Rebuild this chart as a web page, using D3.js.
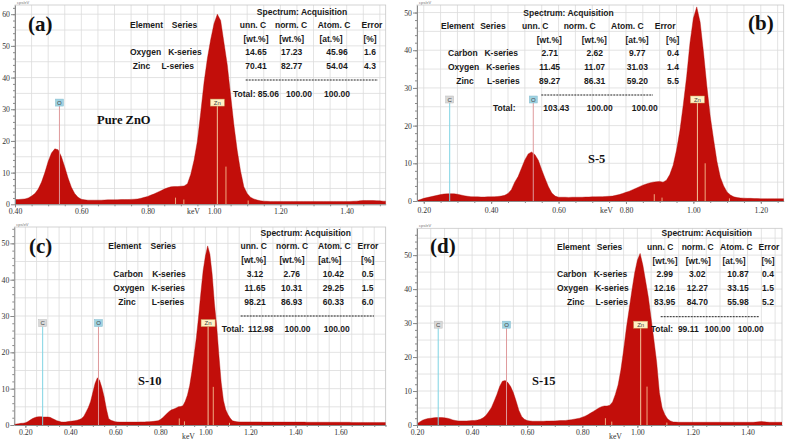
<!DOCTYPE html>
<html><head><meta charset="utf-8">
<script src="https://cdn.jsdelivr.net/npm/d3@7"></script>
<style>body{margin:0;background:#fff}svg{display:block}</style>
</head><body>
<svg id="c" width="786" height="442"></svg>
<script>
// ---------------- DATA ----------------
// Spectra: counts (cps/eV) on a 0.01 keV channel grid starting at *_start
const specA_start = 0.40;
const specA = [1.5,1.5,1.6,1.7,2.0,2.6,3.4,4.8,7.0,10.0,13.5,16.2,17.5,17.2,15.0,11.8,8.3,5.4,3.4,2.2,
1.6,1.4,1.3,1.3,1.3,1.3,1.3,1.35,1.4,1.4,1.4,1.45,1.5,1.5,1.5,1.55,1.6,1.7,1.9,2.2,
2.5,2.9,3.3,3.8,4.3,4.8,5.2,5.5,5.6,5.6,5.7,5.8,6.5,9.5,14.0,20.0,29.0,38.5,46.0,52.0,
57.0,60.0,58.0,51.0,44.0,34.5,25.0,17.0,10.5,5.5,3.4,2.2,1.7,1.35,1.1,1.0,
0.95,0.9,0.9,0.9,0.9,0.9,0.9,0.9,0.9,0.9,0.9,0.9,0.9,0.9,0.9,0.9,0.9,0.9,0.9,0.9,0.9,0.9,0.9,0.9,0.9,0.9,0.95,
1.0,1.1,1.2,1.2,1.2,1.2,1.15,1.1,1.0,1.0];

const specB_start = 0.18;
const specB = [0.1,0.4,0.7,0.9,1.1,1.3,1.5,1.7,1.85,1.9,1.95,1.9,1.8,1.6,1.4,1.25,1.15,1.1,
1.1,1.05,1.05,1.1,1.1,1.15,1.2,1.3,1.5,2.0,3.0,5.0,6.5,8.7,10.9,12.5,13.0,12.3,10.8,8.3,6.0,3.8,2.1,1.3,
1.0,1.0,1.0,0.95,1.0,1.0,1.0,1.0,1.05,1.05,1.1,1.1,1.15,1.15,1.2,1.25,1.3,1.5,1.7,2.0,
2.3,2.6,3.0,3.4,3.8,4.2,4.5,4.8,5.0,5.1,5.2,5.0,5.5,7.0,9.5,13.5,18.7,25.5,33.0,42.0,
48.5,51.5,47.5,39.5,30.5,22.5,16.3,10.5,6.3,4.0,2.4,1.6,1.1,0.9,0.8,
0.75,0.7,0.7,0.65,0.65,0.6,0.6,0.6,0.6,0.6,0.6,0.6,0.6];

const specC_start = 0.15;
const specC = [0.2,0.25,0.35,0.45,0.5,0.6,0.9,1.3,1.7,2.0,2.2,2.3,2.3,2.2,2.2,2.2,2.1,1.8,1.5,1.2,
1.0,0.85,0.8,0.85,0.95,1.0,1.1,1.2,1.3,1.5,1.8,2.4,3.6,4.8,6.5,9.0,11.5,13.0,12.3,10.3,7.8,4.5,1.8,1.3,1.1,0.9,
0.85,0.8,0.8,0.8,0.8,0.8,0.8,0.8,0.8,0.8,0.85,0.85,0.85,0.9,0.9,0.95,
1.0,1.1,1.2,1.5,2.0,2.6,3.2,3.8,4.2,4.4,4.7,5.0,5.1,5.3,6.5,8.2,10.8,14.7,19.3,24.1,30.0,36.5,42.5,
46.5,49.3,47.0,41.5,33.5,27.3,19.2,11.8,6.8,4.3,2.9,1.9,1.2,1.0,0.9,
0.85,0.85,0.85,0.85,0.85,0.85,0.85,0.85,0.85,0.85,
0.8,0.8,0.8,0.8,0.8,0.8,0.8,0.8,0.8,0.8,0.8,0.8,0.8,0.8,0.8,0.8,0.8,0.8,0.8,0.8,
0.75,0.75,0.75,0.75,0.75,0.75,0.75,0.75,0.75,0.75,0.75,0.75,0.75,0.75,0.75,0.75,0.75,0.75,0.75,0.75,
0.7,0.7,0.7,0.7,0.7,0.7,0.7,0.7,0.7,0.7,0.7,0.7,0.7,0.7,0.7,0.7];

const specD_start = 0.20;
const specD = [0.4,0.9,1.4,1.7,1.9,2.0,2.1,2.2,2.2,2.2,2.1,2.0,1.8,1.5,1.3,1.2,1.2,1.2,1.2,1.25,
1.3,1.35,1.45,1.7,2.1,2.8,3.9,5.1,7.0,9.0,11.3,12.9,13.1,12.5,11.3,9.5,7.0,4.3,2.5,1.7,1.3,1.2,
1.1,1.1,1.1,1.1,1.1,1.15,1.15,1.2,1.2,1.25,1.3,1.3,1.35,1.45,1.55,1.7,1.85,2.0,
2.3,2.6,3.0,3.5,4.0,4.5,5.0,5.4,5.6,5.6,5.8,6.8,9.0,11.8,16.2,22.0,28.5,34.0,39.5,44.7,
48.5,50.5,47.0,42.3,37.5,31.3,25.0,18.5,9.5,5.0,3.0,1.8,1.2,0.9,
0.85,0.8,0.8,0.8,0.8,0.8,0.8,0.8,0.8,0.8,0.8,0.8,0.8,0.8,0.8,0.8,0.8,0.8,0.8,0.8,
0.8,0.8,0.8,0.8,0.8,0.8,0.8,0.8,0.8,0.85,0.95,1.0,0.95,0.85,0.8,0.8,0.8,0.8,0.8,0.8];

// Element marker energies (keV) and minor Zn line heights (cps/eV)
const markersA = [{el:"O", e:0.534}, {el:"Zn", e:1.010}];
const minorA = [{e:0.884, h:2.1}, {e:0.909, h:1.5}, {e:1.036, h:11.9}, {e:1.103, h:1.2}];
const markersB = [{el:"C", e:0.277}, {el:"O", e:0.525}, {el:"Zn", e:1.012}];
const minorB = [{e:0.884, h:1.8}, {e:0.907, h:0.9}, {e:1.035, h:10.0}, {e:1.107, h:0.7}];
const markersC = [{el:"C", e:0.277}, {el:"O", e:0.525}, {el:"Zn", e:1.012}];
const minorC = [{e:0.884, h:1.8}, {e:0.907, h:1.0}, {e:1.035, h:10.5}, {e:1.107, h:0.6}];
const markersD = [{el:"C", e:0.277}, {el:"O", e:0.525}, {el:"Zn", e:1.012}];
const minorD = [{e:0.884, h:2.0}, {e:0.907, h:1.0}, {e:1.035, h:11.3}, {e:1.107, h:0.7}];

// Tick labels
const xTicksA = [0.40,0.60,0.80,1.00,1.20,1.40];
const xTicksB = [0.20,0.40,0.60,0.80,1.00,1.20];
const xTicksC = [0.20,0.40,0.60,0.80,1.00,1.20,1.40,1.60];
const xTicksD = [0.20,0.40,0.60,0.80,1.00,1.20,1.40];
const yTicksA = [0,10,20,30,40,50,60];
const yTicksB = [0,10,20,30,40,50];
const yTicksC = [0,10,20,30,40,50];
const yTicksD = [0,10,20,30,40,50];

// Quantification tables
const headers = ["unn. C","norm. C","Atom. C","Error"];
const units = ["[wt.%]","[wt.%]","[at.%]","[%]"];
const rowsA = [["Oxygen","K-series","14.65","17.23","45.96","1.6"],["Zinc","L-series","70.41","82.77","54.04","4.3"]];
const totalA = ["85.06","100.00","100.00"];
const rowsB = [["Carbon","K-series","2.71","2.62","9.77","0.4"],["Oxygen","K-series","11.45","11.07","31.03","1.4"],["Zinc","L-series","89.27","86.31","59.20","5.5"]];
const totalB = ["103.43","100.00","100.00"];
const rowsC = [["Carbon","K-series","3.12","2.76","10.42","0.5"],["Oxygen","K-series","11.65","10.31","29.25","1.5"],["Zinc","L-series","98.21","86.93","60.33","6.0"]];
const totalC = ["112.98","100.00","100.00"];
const rowsD = [["Carbon","K-series","2.99","3.02","10.87","0.4"],["Oxygen","K-series","12.16","12.27","33.15","1.5"],["Zinc","L-series","83.95","84.70","55.98","5.2"]];
const totalD = ["99.11","100.00","100.00"];

const panelLetters = ["(a)","(b)","(c)","(d)"];
const sampleNames = ["Pure ZnO","S-5","S-10","S-15"];

// ---------------- LAYOUT ----------------
const svg = d3.select("#c");
const SERIF = "'Liberation Serif','Times New Roman',serif";
const SANS = "'Liberation Sans',Arial,sans-serif";
const RED = "#c20e0a";

const panels = [
 {spec:specA, start:specA_start, markers:markersA, minor:minorA, xt:xTicksA, yt:yTicksA, rows:rowsA, total:totalA,
  left:15, right:385.7, top:5, zero:204.3, xDom:[0.40,1.5176], yMax:62.9, labelV:31.0,
  letter:{x:28,y:31}, sample:{x:97,y:124}, keV:{x:187,y:214}, tickY:214,
  tbl:{title:[302,14.7], hy:[28,42], elemX:130, serEnd:197.3, colH:[253,291,334,372], colU:[256,291.7,331,370],
       rowY:[55.3,69], lab:[[130,201.7],[132.7,194]], colV:[256,291.7,337,370], dash:[245.7,378,80],
       totY:96.7, totLab:233, totV:[268.3,299,337]}},
 {spec:specB, start:specB_start, markers:markersB, minor:minorB, xt:xTicksB, yt:yTicksB, rows:rowsB, total:totalB,
  left:417, right:783.7, top:5, zero:201, xDom:[0.18,1.268], yMax:52.0, labelV:26.0,
  letter:{x:748,y:30}, sample:{x:588,y:163}, keV:{x:600,y:213}, tickY:213,
  tbl:{title:[568.5,15.7], hy:[28.7,43], elemX:441, serEnd:505.7, colH:[535.3,579.7,627.3,665.2], colU:[549.3,594.3,637,672.7],
       rowY:[56.3,69.7,83.7], lab:[[448,518],[448,519.7],[456.3,519.7]], colV:[549.7,594.7,637.3,673], dash:[541.3,653,95],
       totY:111.3, totLab:493, totV:[556.3,599.7,644.7]}},
 {spec:specC, start:specC_start, markers:markersC, minor:minorC, xt:xTicksC, yt:yTicksC, rows:rowsC, total:totalC,
  left:14.3, right:385.7, top:227, zero:425, xDom:[0.151,1.801], yMax:54.5, labelV:27.1,
  letter:{x:29,y:253}, sample:{x:138,y:385}, keV:{x:182,y:439}, tickY:435,
  tbl:{title:[305.7,236], hy:[249.3,263.3], elemX:108.3, serEnd:176, colH:[253.7,292,334.3,368], colU:[253.7,292,329.7,367.7],
       rowY:[276.7,290.7,304.7], lab:[[113.3,185.7],[113.3,185],[118.3,184.3]], colV:[255,291.7,333.3,367.7], dash:[240.7,374,316],
       totY:332.3, totLab:221.7, totV:[260.8,297.5,336.7]}},
 {spec:specD, start:specD_start, markers:markersD, minor:minorD, xt:xTicksD, yt:yTicksD, rows:rowsD, total:totalD,
  left:417, right:782, top:228.3, zero:425, xDom:[0.20,1.525], yMax:57.9, labelV:28.5,
  letter:{x:430,y:253}, sample:{x:532,y:385}, keV:{x:609,y:439}, tickY:435,
  tbl:{title:[706.7,236], hy:[249.7,264], elemX:557, serEnd:622.3, colH:[660.2,697.7,736.3,769], colU:[665,698.3,734,768],
       rowY:[277.3,291.3,305], lab:[[557,627.3],[557,628.7],[567,628]], colV:[664.7,697.3,738,768], dash:[660.7,759.7,316.7],
       totY:332.3, totLab:650.7, totV:[688.3,717.5,750.8]}}
];

const markerStyle = {
  C:{line:"#7fd3e3", bg:"#d9d9d9", border:"#bdbdbd"},
  O:{line:"#df9a9c", bg:"#9fd3e2", border:"#86bccd"},
  Zn:{line:"#f3c79c", bg:"#fff2c6", border:"#c9a25e"}
};

panels.forEach((p, pi) => {
  const g = svg.append("g");
  const x = d3.scaleLinear().domain(p.xDom).range([p.left, p.right]);
  const y = d3.scaleLinear().domain([0, p.yMax]).range([p.zero, p.top]);
  const clipId = "clip" + pi;
  svg.append("clipPath").attr("id", clipId).append("rect")
     .attr("x", p.left).attr("y", p.top).attr("width", p.right - p.left).attr("height", p.zero - p.top);

  // grid
  const gx = [];
  for (let k = Math.ceil(p.xDom[0] / 0.05 - 1e-6); k * 0.05 <= p.xDom[1] + 1e-6; k++) gx.push(+(k * 0.05).toFixed(3));
  g.append("g").selectAll("line").data(gx).join("line")
    .attr("x1", d => x(d)).attr("x2", d => x(d)).attr("y1", p.top).attr("y2", p.zero)
    .attr("stroke", "#dcdcdc").attr("stroke-width", 0.8);
  const gy = d3.range(5, p.yMax, 5);
  g.append("g").selectAll("line").data(gy).join("line")
    .attr("x1", p.left).attr("x2", p.right).attr("y1", d => y(d)).attr("y2", d => y(d))
    .attr("stroke", "#dcdcdc").attr("stroke-width", 0.8);
  g.append("rect").attr("x", p.left).attr("y", p.top).attr("width", p.right - p.left).attr("height", p.zero - p.top)
    .attr("fill", "none").attr("stroke", "#c8c8c8").attr("stroke-width", 0.8);

  // spectrum
  const pts = p.spec.map((v, i) => ({e: p.start + i * 0.01, v}));
  const area = d3.area().x(d => x(d.e)).y0(y(0)).y1(d => y(d.v)).curve(d3.curveLinear);
  g.append("path").datum(pts).attr("clip-path", `url(#${clipId})`)
    .attr("d", area).attr("fill", RED).attr("stroke", "#b00a06").attr("stroke-width", 0.4);

  // minor lines
  g.append("g").selectAll("line").data(p.minor).join("line")
    .attr("x1", d => x(d.e)).attr("x2", d => x(d.e)).attr("y1", y(0)).attr("y2", d => y(d.h))
    .attr("stroke", "#f0aa80").attr("stroke-width", 1);

  // marker lines + labels
  const mg = g.append("g");
  p.markers.forEach(m => {
    const st = markerStyle[m.el];
    const cx = x(m.e), ly = y(p.labelV);
    mg.append("line").attr("x1", cx).attr("x2", cx).attr("y1", ly).attr("y2", y(0))
      .attr("stroke", st.line).attr("stroke-width", 1);
    const w = m.el === "Zn" ? 14 : 8;
    mg.append("rect").attr("x", cx - w / 2).attr("y", ly - 7).attr("width", w).attr("height", 7)
      .attr("fill", st.bg).attr("stroke", st.border).attr("stroke-width", 0.5);
    mg.append("text").attr("x", cx).attr("y", ly - 1.5).attr("text-anchor", "middle")
      .attr("font-family", SANS).attr("font-size", 6).attr("fill", "#444").text(m.el);
  });

  // axes
  const xAxis = d3.axisBottom(x).tickValues(p.xt).tickFormat(d3.format(".2f")).tickSize(3).tickSizeOuter(0);
  const ax = g.append("g").attr("transform", `translate(0,${p.zero})`).call(xAxis);
  ax.select(".domain").attr("stroke", "#8a8a8a");
  ax.selectAll(".tick line").attr("stroke", "#8a8a8a");
  ax.selectAll(".tick text").attr("font-family", SERIF).attr("font-size", 7.8).attr("fill", "#333")
    .attr("dy", null).attr("y", p.tickY - p.zero);
  const minX = d3.axisBottom(x).tickValues(gx).tickFormat("").tickSize(2).tickSizeOuter(0);
  g.append("g").attr("transform", `translate(0,${p.zero})`).call(minX)
    .call(s => { s.select(".domain").remove(); s.selectAll("line").attr("stroke", "#8a8a8a"); });

  const yAxis = d3.axisLeft(y).tickValues(p.yt).tickSize(4).tickSizeOuter(0);
  const ay = g.append("g").attr("transform", `translate(${p.left},0)`).call(yAxis);
  ay.select(".domain").attr("stroke", "#8a8a8a");
  ay.selectAll(".tick line").attr("stroke", "#8a8a8a");
  ay.selectAll(".tick text").attr("font-family", SERIF).attr("font-size", 7.8).attr("fill", "#333").attr("x", -5);
  const minY = d3.axisLeft(y).tickValues(d3.range(2, p.yMax, 2)).tickFormat("").tickSize(2).tickSizeOuter(0);
  g.append("g").attr("transform", `translate(${p.left},0)`).call(minY)
    .call(s => { s.select(".domain").remove(); s.selectAll("line").attr("stroke", "#8a8a8a"); });

  g.append("text").attr("x", p.left + 2).attr("y", p.top - 1).attr("font-family", SANS)
    .attr("font-size", 4).attr("fill", "#777").text("cps/eV");
  g.append("text").attr("x", p.keV.x).attr("y", p.keV.y).attr("font-family", SERIF)
    .attr("font-size", 7.8).attr("fill", "#333").text("keV");

  // letters & sample names
  g.append("text").attr("x", p.letter.x).attr("y", p.letter.y).attr("font-family", SERIF)
    .attr("font-weight", "bold").attr("font-size", 21).attr("fill", "#111").text(panelLetters[pi]);
  g.append("text").attr("x", p.sample.x).attr("y", p.sample.y).attr("font-family", SERIF)
    .attr("font-weight", "bold").attr("font-size", 12.5).attr("fill", "#111").text(sampleNames[pi]);

  // table
  const t = p.tbl;
  const tg = g.append("g").attr("font-family", SANS).attr("font-weight", "bold").attr("font-size", 8.5).attr("fill", "#1a1a1a");
  const T = (xx, yy, s, anchor) => tg.append("text").attr("x", xx).attr("y", yy).attr("text-anchor", anchor || "start").text(s);
  T(t.title[0], t.title[1], "Spectrum: Acquisition", "middle");
  T(t.elemX, t.hy[0], "Element");
  T(t.serEnd, t.hy[0], "Series", "end");
  headers.forEach((h, i) => T(t.colH[i], t.hy[0], h, "middle"));
  units.forEach((u, i) => T(t.colU[i], t.hy[1], u, "middle"));
  p.rows.forEach((r, ri) => {
    T(t.lab[ri][0], t.rowY[ri], r[0]);
    T(t.lab[ri][1], t.rowY[ri], r[1], "end");
    for (let c = 0; c < 4; c++) T(t.colV[c], t.rowY[ri], r[2 + c], "middle");
  });
  tg.append("line").attr("x1", t.dash[0]).attr("x2", t.dash[1]).attr("y1", t.dash[2]).attr("y2", t.dash[2])
    .attr("stroke", "#222").attr("stroke-width", 1).attr("stroke-dasharray", "2,1");
  T(t.totLab, t.totY, "Total:");
  p.total.forEach((v, i) => T(t.totV[i], t.totY, v, "middle"));
});
</script>
</body></html>
